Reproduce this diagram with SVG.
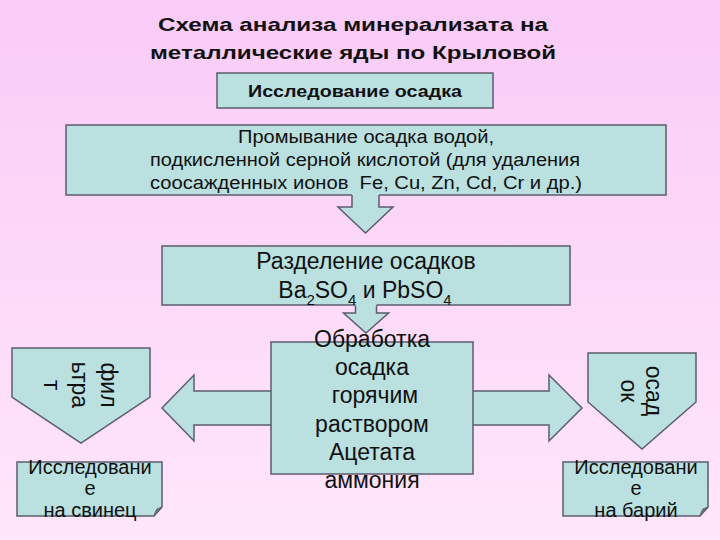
<svg xmlns="http://www.w3.org/2000/svg" width="720" height="540" viewBox="0 0 720 540">
  <defs>
    <linearGradient id="bg" x1="0" y1="0" x2="0" y2="1">
      <stop offset="0" stop-color="#F9CBF7"/>
      <stop offset="1" stop-color="#FFE6FA"/>
    </linearGradient>
    <style>
      .box { fill: #BAE0E0; stroke: #5C5C6C; stroke-width: 1.5; }
      .fillonly { fill: #BAE0E0; stroke: none; }
      .edge { fill: none; stroke: #5C5C6C; stroke-width: 1.5; stroke-linejoin: miter; }
      .t { font-family: "Liberation Sans", Arial, sans-serif; fill: #111; text-anchor: middle; }
      .title { font-size: 19px; font-weight: bold; }
      .b1 { font-size: 17px; font-weight: bold; }
      .b2 { font-size: 18px; }
      .big { font-size: 23px; }
      .note { font-size: 20px; }
      .fold { fill: #6E7F80; stroke: #5C5C6C; stroke-width: 1; }
    </style>
  </defs>

  <rect x="0" y="0" width="720" height="540" fill="url(#bg)"/>

  <g id="title">
    <text class="t title" x="353" y="31" textLength="390" lengthAdjust="spacingAndGlyphs">Схема анализа минерализата на</text>
    <text class="t title" x="353" y="59" textLength="406" lengthAdjust="spacingAndGlyphs">металлические яды по Крыловой</text>
  </g>

  <g id="node-study">
    <rect class="box" x="217" y="73" width="276" height="35"/>
    <text class="t b1" x="355" y="97" textLength="214" lengthAdjust="spacingAndGlyphs">Исследование осадка</text>
  </g>

  <g id="node-wash">
    <rect class="box" x="66" y="125" width="600" height="70"/>
    <text class="t b2" x="366" y="143" textLength="256" lengthAdjust="spacingAndGlyphs">Промывание осадка водой,</text>
    <text class="t b2" x="365" y="166" textLength="430" lengthAdjust="spacingAndGlyphs">подкисленной серной кислотой (для удаления</text>
    <text class="t b2" x="366" y="189" textLength="432" lengthAdjust="spacingAndGlyphs">соосажденных ионов&#160; Fe, Cu, Zn, Cd, Cr и др.)</text>
  </g>

  <g id="node-separate">
    <rect class="box" x="162" y="246" width="408" height="59"/>
    <text class="t big" x="366" y="269">Разделение осадков</text>
    <text class="t big" x="365" y="298">Ba<tspan font-size="15" dy="7">2</tspan><tspan dy="-7">SO</tspan><tspan font-size="15" dy="7">4</tspan><tspan dy="-7"> и PbSO</tspan><tspan font-size="15" dy="7">4</tspan></text>
  </g>

  <g id="connectors">
    <g id="arrow-wash-separate">
      <polygon class="fillonly" points="352,193 379,193 379,207 393,207 365.5,233 338,207 352,207"/>
      <polyline class="edge" points="352,195 352,207 338,207 365.5,233 393,207 379,207 379,195"/>
    </g>
    <g id="arrow-separate-treat">
      <polygon class="fillonly" points="355.5,304 376.5,304 376.5,313 388.5,313 366,333 343.5,313 355.5,313"/>
      <polyline class="edge" points="355.5,305.5 355.5,313 343.5,313 366,333 388.5,313 376.5,313 376.5,305.5"/>
    </g>
    <g id="arrow-treat-sides">
      <polygon class="box" points="162,408 194,375 194,391 549,391 549,375 582,408 549,441 549,425 194,425 194,441"/>
    </g>
  </g>

  <g id="node-treat">
    <rect class="box" x="271" y="342" width="202" height="132"/>
    <text class="t big" x="372" y="346.7">Обработка</text>
    <text class="t big" x="372" y="375">осадка</text>
    <text class="t big" x="375" y="403.3">горячим</text>
    <text class="t big" x="372" y="431.7">раствором</text>
    <text class="t big" x="372" y="460">Ацетата</text>
    <text class="t big" x="372" y="488.3">аммония</text>
  </g>

  <g id="node-filtrate">
    <path class="box" d="M12,348 H150 V397 L81,443 L12,397 Z"/>
    <text class="t big" transform="translate(101,385) rotate(90)">фил</text>
    <text class="t big" transform="translate(72,385) rotate(90)">ьтра</text>
    <text class="t big" transform="translate(44,385) rotate(90)">т</text>
  </g>

  <g id="node-precipitate">
    <path class="box" d="M588,353 H696 V402 L642,449 L588,402 Z"/>
    <text class="t big" transform="translate(646,391) rotate(90)">осад</text>
    <text class="t big" transform="translate(621,391) rotate(90)">ок</text>
  </g>

  <g id="node-lead">
    <path class="box" d="M17,462 H162 V507 L154,516 H17 Z"/>
    <path class="fold" d="M154,516 L162,507 L157,509 Q155,512 154,516 Z"/>
    <text class="t note" x="90" y="474">Исследовани</text>
    <text class="t note" x="90" y="495">е</text>
    <text class="t note" x="90" y="517">на свинец</text>
  </g>

  <g id="node-barium">
    <path class="box" d="M563,462 H708 V507 L700,516 H563 Z"/>
    <path class="fold" d="M700,516 L708,507 L703,509 Q701,512 700,516 Z"/>
    <text class="t note" x="636" y="474">Исследовани</text>
    <text class="t note" x="636" y="495">е</text>
    <text class="t note" x="636" y="517">на барий</text>
  </g>
</svg>
